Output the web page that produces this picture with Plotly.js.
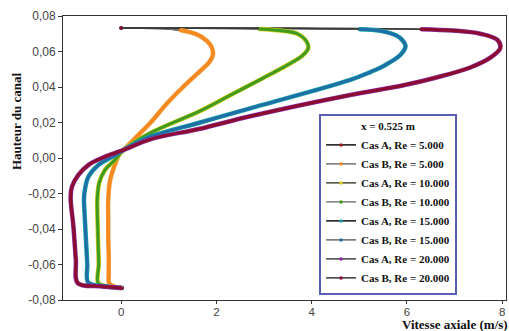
<!DOCTYPE html>
<html><head><meta charset="utf-8">
<script src="https://cdn.plot.ly/plotly-3.0.1.min.js"></script>
<style>html,body{margin:0;padding:0;background:#fff;}#chart{width:509px;height:331px;}</style>
</head><body><div id="chart"></div>
<script>
// ---- data ----
const seriesNames = ["Cas A, Re = 5.000","Cas B, Re = 5.000","Cas A, Re = 10.000","Cas B, Re = 10.000",
                     "Cas A, Re = 15.000","Cas B, Re = 15.000","Cas A, Re = 20.000","Cas B, Re = 20.000"];
const legendTitle = "x = 0.525 m";

// Re = 5.000 : channel height (m) and axial velocity (m/s)
const y5  = [-0.0733,-0.0724,-0.0706,-0.065,-0.055,-0.045,-0.035,-0.023,-0.0124,-0.003,0.0028,0.0045,0.010,0.0197,0.031,0.040,0.0485,0.054,0.0585,0.0625,0.066,0.0695,0.0721,0.0733];
const u5  = [0.02,-0.14,-0.25,-0.26,-0.26,-0.27,-0.27,-0.27,-0.23,-0.12,-0.02,0.05,0.25,0.61,0.97,1.30,1.64,1.85,1.93,1.90,1.80,1.60,1.24,0.00];
// Re = 10.000
const y10 = [-0.0733,-0.0724,-0.0705,-0.060,-0.050,-0.040,-0.030,-0.023,-0.014,-0.0068,-0.0011,0.0045,0.0140,0.0265,0.0355,0.045,0.0524,0.0575,0.062,0.0665,0.0700,0.0718,0.0727,0.0733];
const u10 = [0.02,-0.28,-0.48,-0.47,-0.48,-0.49,-0.50,-0.50,-0.46,-0.34,-0.13,0.05,0.61,1.66,2.30,2.98,3.49,3.80,3.93,3.87,3.70,3.34,2.90,0.00];
// Re = 15.000
const y15 = [-0.0733,-0.0723,-0.0701,-0.060,-0.050,-0.040,-0.030,-0.023,-0.018,-0.0107,-0.004,0.0006,0.0045,0.0120,0.0200,0.0280,0.0440,0.0484,0.0520,0.0580,0.0630,0.0665,0.0690,0.0716,0.0725,0.0733];
const u15 = [0.02,-0.34,-0.69,-0.71,-0.73,-0.75,-0.77,-0.78,-0.76,-0.69,-0.48,-0.19,0.05,0.61,1.66,2.71,4.81,5.23,5.52,5.86,5.97,5.90,5.78,5.44,5.00,0.00];
// Re = 20.000
const y20 = [-0.0733,-0.0723,-0.0705,-0.0575,-0.039,-0.022,-0.016,-0.0096,-0.004,0.0,0.0028,0.0045,0.0105,0.0165,0.0235,0.0355,0.0410,0.0455,0.0510,0.0565,0.0620,0.0665,0.0700,0.0718,0.0726,0.0733];
const u20 = [0.02,-0.44,-0.91,-0.95,-1.00,-1.06,-1.03,-0.90,-0.69,-0.40,-0.13,0.05,0.61,1.66,2.71,4.81,5.93,6.64,7.33,7.75,7.96,7.90,7.54,6.97,6.30,0.00];

const yTickVals = [-0.08,-0.06,-0.04,-0.02,0,0.02,0.04,0.06,0.08];
const yTickText = ["-0,08","-0,06","-0,04","-0,02","0,00","0,02","0,04","0,06","0,08"];
const xTickVals = [0,2,4,6,8];
const xTickText = ["0","2","4","6","8"];

// ---- styles ----
const profiles = [[u5,y5],[u10,y10],[u15,y15],[u20,y20]];
const lineColors   = ["#111111","#707070","#4a4a3a","#7a7a7a","#111111","#6a6a6a","#444444","#3a3a3a"];
const markerColors = ["#9b1c1c","#f5891f","#d8cf1a","#3f9a1e","#1aa0a8","#1d6fa5","#8a2a9a","#8b0c2e"];
const bandColors   = ["#f39a3a","#f5891f","#c9c81c","#3f9a1e","#1aa0a8","#1d6fa5","#8a2a9a","#8b0c2e"];

const traces = [];
// legend traces (thin dark line with coloured markers)
for (let i = 0; i < 8; i++) {
  const p = profiles[Math.floor(i/2)];
  traces.push({
    x: p[0], y: p[1], name: seriesNames[i], type: "scatter", mode: "lines+markers",
    line: {color: lineColors[i], width: 1.5, shape: "spline", smoothing: 1},
    marker: {color: markerColors[i], size: 3.5, symbol: "circle"},
    hoverinfo: "skip"
  });
}
// dense coloured bands (the dense marker look of the original)
for (let i = 0; i < 8; i++) {
  const p = profiles[Math.floor(i/2)];
  traces.push({
    x: p[0].slice(0,-1), y: p[1].slice(0,-1), type: "scatter", mode: "lines", showlegend: false,
    line: {color: bandColors[i], width: (i % 2 === 0) ? 4.5 : 3, shape: "spline", smoothing: 1},
    hoverinfo: "skip"
  });
}

const serif = "Liberation Serif, Times New Roman, serif";
const sans = "Liberation Sans, Arial, sans-serif";
const layout = {
  width: 509, height: 331,
  margin: {l: 63, r: 3, t: 16, b: 31},
  paper_bgcolor: "#fff", plot_bgcolor: "#fff",
  separators: ", ",
  showlegend: true,
  xaxis: {
    range: [-1.22, 8.08], tickvals: xTickVals, ticktext: xTickText,
    showgrid: false, zeroline: false, showline: true, mirror: true, linecolor: "#333", linewidth: 1,
    ticks: "outside", ticklen: 3, tickcolor: "#333", ticklabelstandoff: -2,
    tickfont: {family: sans, size: 11.5, color: "#444"}
  },
  yaxis: {
    range: [-0.08, 0.08], tickvals: yTickVals, ticktext: yTickText,
    showgrid: false, zeroline: false, showline: true, mirror: true, linecolor: "#333", linewidth: 1,
    ticks: "outside", ticklen: 4, tickcolor: "#333",
    tickfont: {family: sans, size: 12, color: "#444"}
  },
  legend: {
    x: 0.578, y: 0.336, xanchor: "left", yanchor: "middle",
    bgcolor: "#fff", bordercolor: "#5a5fb5", borderwidth: 2,
    font: {family: serif, size: 11, color: "#111", weight: "bold"},
    title: {text: "<b>" + legendTitle + "</b>", side: "top center", font: {family: serif, size: 11, color: "#111"}},
    itemwidth: 30
  },
  annotations: [
    {text: "<b>Hauteur du canal</b>", xref: "paper", yref: "paper", x: -0.106, y: 0.63,
     textangle: -90, showarrow: false, xanchor: "center", yanchor: "middle",
     font: {family: serif, size: 13, color: "#111"}},
    {text: "<b>Vitesse axiale (m/s)</b>", xref: "paper", yref: "paper", x: 1, y: -0.116, xshift: 3,
     showarrow: false, xanchor: "right", yanchor: "bottom", borderpad: 0,
     font: {family: serif, size: 13, color: "#111"}}
  ]
};
Plotly.newPlot("chart", traces, layout, {staticPlot: true, displayModeBar: false});
</script></body></html>
